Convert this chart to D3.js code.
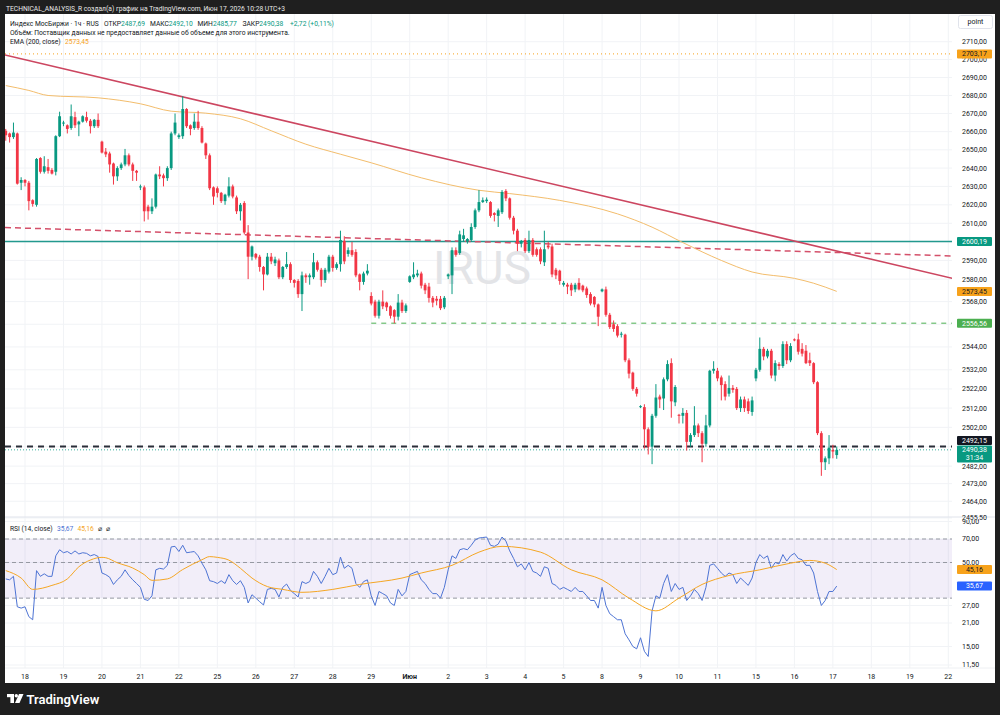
<!DOCTYPE html>
<html>
<head>
<meta charset="utf-8">
<script src="https://cdn.jsdelivr.net/npm/d3@7"></script>
<style>
  body { margin: 0; background: #1f1f1f; }
  svg text { font-family: Roboto, "Noto Sans", sans-serif; }
</style>
</head>
<body>
<svg id="chart" width="1000" height="715"></svg>
<script>
// ---- data (hourly bars, index 0 = first bar of 18 May, 10 bars per day) ----
const firstBar = -5;
const dayLabels = ["18","19","20","21","22","25","26","27","28","29","Июн","2","3","4","5","8","9","10","11","15","16","17","18","19","22"];
const barsPerDay = 10;

const opens = [
  2660.5,2659,2657,2659,2632,
  2633.5,2632,2622.5,2620,2645.5,2638,2640.5,2639,2638,2657.5,
  2664.5,2663.5,2662,2668,2664,2665.5,2668,2666,2663,2666.5,
  2654.5,2649,2648,2642.5,2635.5,2640,2642,2647,2642,2638.5,
  2629.5,2629.5,2619,2616.5,2619,2636.5,2636,2634.5,2640,2659,
  2657,2657.5,2672.5,2663.5,2662,2665.5,2662,2653.5,2647,2629.5,
  2629,2626.5,2622,2625,2630,2624,2616.5,2621,2605,2592,
  2593.5,2592,2586.5,2582.5,2592,2588.5,2590,2581,2586.5,2588,
  2579.5,2579,2572,2582,2581,2581,2589,2585,2579.5,2584,
  2592,2586,2588,2600.5,2593.5,2595.5,2594.5,2582.5,2578.5,2583,
  2571,2568,2560.5,2568,2567.5,2565.5,2563.5,2560,2567.5,2563,
  2578.5,2581,2582,2583,2577,2576,2570,2569.5,2569.5,2565,
  2581.5,2582,2595.5,2594,2601.5,2600,2601,2608,2617,2621.5,
  2622,2621.5,2615.5,2614,2616,2627.5,2623.5,2613,2606,2599,
  2601,2595,2601,2596,2596,2589,2598,2597.5,2585,2584.5,
  2577,2577,2577,2574.5,2578,2576.5,2575,2572,2570.5,2566.5,
  2573.5,2574.5,2561,2556,2555,2550.5,2550.5,2537,2530.5,2522,
  2512.5,2512.5,2501,2492,2508,2518,2517,2527,2535.5,2515,
  2508.5,2508,2509.5,2494.5,2498,2503,2499,2493.5,2503,2531.5,
  2531.5,2528,2524.5,2519.5,2522.5,2522,2512,2516.5,2515.5,2510,
  2527.5,2532,2543,2539,2542,2529,2535,2534,2545.5,2537,
  2548,2548,2543,2542,2537,2535.5,2525.5,2499,2484,2486,
  2490.3,2487.69
];
const highs = [
  2661.5,2659.5,2665,2659.5,2635,
  2634,2633,2623,2645.5,2646,2646.5,2645,2640,2658,2671,
  2666,2664,2675,2671,2666,2669,2671,2667,2667,2670,
  2655,2651,2649,2643,2641,2643,2650.5,2648,2643,2639,
  2631,2630.5,2620,2623.5,2637,2641,2637,2641,2660,2670,
  2659,2679.5,2673,2664,2670,2671.5,2663,2654,2648,2630,
  2630,2627,2626,2635,2631,2625,2621,2622,2609,2598,
  2594,2593,2587,2594,2594,2592,2591,2587,2594.5,2589,
  2580,2580,2584,2583,2583,2594,2590,2586,2586,2593,
  2593,2589,2606,2603,2597,2600,2596,2583,2584,2588,
  2573,2569,2569,2574,2568,2566,2564,2572,2569,2567,
  2582,2589,2585,2584,2578,2578,2571,2571,2571,2571,
  2583,2597,2597,2606,2607,2602,2610,2618,2628,2624,
  2624,2622,2616,2618,2628,2628.5,2624,2614,2607,2601,
  2602,2606,2602,2597,2597,2606,2600,2599,2586,2585,
  2579,2578,2578,2578,2580.5,2577,2576,2573,2571,2567,
  2575,2576,2562,2558,2556,2552,2551,2538,2531,2523,
  2513.5,2514,2502,2509,2524.5,2519,2528,2537,2538,2524,
  2509,2512,2511,2499,2513,2504,2500,2508.5,2532,2536.5,
  2533,2529,2526,2529,2524,2523,2518,2518,2517,2518,
  2533,2549,2544,2543,2543,2537,2536,2547,2547,2546,
  2548.5,2551,2546,2545,2541,2536,2526,2500,2487,2498,
  2493,2492.10
];
const lows = [
  2655,2654,2656,2631,2628,
  2630,2617,2619,2619,2637,2637,2637,2636.5,2636,2657,
  2663,2659,2661,2662,2657.5,2665,2665,2659,2662,2662,
  2648,2646,2637.5,2631,2633,2639,2641,2641,2633,2633,
  2628,2611,2612,2615,2618,2634,2630,2633,2639,2658,
  2656,2656,2662,2658,2661,2661,2653.5,2645,2628,2620,
  2624,2621,2620,2624,2623.5,2615,2611.5,2604,2580,2590,
  2590.5,2584,2574,2582,2588,2587,2580,2580,2585.5,2578,
  2575.5,2570,2563,2578,2577,2580,2584,2576,2578,2583,
  2584,2585,2584,2588,2592,2592,2581,2574,2577,2582,
  2566,2559.5,2559,2564,2563,2559,2556.5,2558,2562,2562,
  2578,2580,2581,2575,2572,2567.5,2565,2566,2563.5,2564,
  2580,2572,2592,2593,2600,2599,2600,2607,2616,2621,
  2621,2613,2611,2608,2615,2622,2612,2604,2595,2597,
  2594,2594,2592,2592,2588,2587,2596,2581,2580,2577,
  2576,2572,2571,2573,2574,2573,2570,2566,2565,2555,
  2573,2560,2553.5,2552,2549,2549,2536,2527.5,2521,2518,
  2512,2491,2488,2483,2507,2512,2511,2526,2507,2513,
  2504,2504,2490,2492,2497,2497,2484,2492,2502,2530,
  2526,2516,2516,2518,2520,2511,2510,2510,2509,2508,
  2526,2531,2537,2538,2527.5,2526,2532,2533,2535,2536,
  2547,2540,2539,2535,2534,2524.5,2498,2477,2480,2483,
  2486,2485.77
];
const closes = [
  2658,2657,2659.5,2631.5,2633.5,
  2632,2622,2620.5,2645,2638,2641,2638.5,2637,2657.5,2668.5,
  2665,2661.5,2668.5,2663.5,2665.5,2668.5,2666,2663,2666.5,2663,
  2648.5,2647.5,2642,2635.5,2640,2642,2647,2642,2638.5,2637.5,
  2630,2616.5,2616.5,2619,2636.5,2635.5,2634.5,2640,2659,2665,
  2658,2672.5,2663,2661.5,2665.5,2662,2654,2647,2629,2624.5,
  2626.5,2622,2625.5,2630,2624.5,2616.5,2620,2605,2592,2597.5,
  2591.5,2586.5,2582.5,2592,2589.5,2590.5,2581,2586.5,2588,2579.5,
  2578,2572,2582,2581,2582,2589,2585,2579.5,2585,2592,
  2586,2588,2601,2589.5,2595.5,2593,2582,2578.5,2583,2584.5,
  2567,2560.5,2568,2565.5,2565,2560.5,2560,2567.5,2563,2566,
  2581.5,2582.5,2583,2576.5,2574,2570,2567.5,2568.5,2564.5,2570,
  2582.5,2595.5,2593,2604,2603.5,2601.5,2608,2617,2621.5,2622.5,
  2622.8,2614,2614.5,2617,2627,2623.5,2613,2606,2599,2600.5,
  2595,2601,2593,2593,2589.5,2596,2597,2582.5,2582,2579,
  2578,2576,2574,2577,2574.5,2574,2571.5,2567,2566.5,2560,
  2574.5,2561,2554.5,2553.5,2550,2551,2537,2530,2522,2519.5,
  2513,2501,2492,2508,2517.5,2516.5,2527,2535,2515.5,2523,
  2508,2509.5,2494.5,2498,2503,2499,2493.5,2503,2531.5,2532.5,
  2527.5,2524,2518,2522.5,2521.5,2512,2516.5,2512,2510.5,2516,
  2532,2543,2539,2542,2529,2535.5,2534,2545.5,2537,2544.5,
  2547.5,2541.5,2540.5,2535.5,2535.5,2525.5,2499,2484,2486,2491.5,
  2489.5,2490.38
];

// EMA(200) at sample bars
const emaIdx = [-5, 1, 6, 19, 30, 38, 47, 56, 64, 73, 82, 90, 103, 118, 126, 139, 154, 163, 171, 181, 189, 200, 205, 211];
const emaVal = [2685.5, 2682.8, 2680, 2678.7, 2675.4, 2671.3, 2670.2, 2667.1, 2660.5, 2653.1, 2647.6, 2642.9, 2634.7, 2627.9, 2626.1, 2622.4, 2615.1, 2607.9, 2599.6, 2590, 2583.8, 2580.4, 2577.8, 2573.45];

// RSI(14), one value per bar from firstBar
const rsiVal = [
  39.5,39,41,26.5,26,
  26.5,23,22,44.5,41,42.5,41,41,55,60,
  57.5,58.5,56.5,59,56.5,57.5,57,55,56,54.5,
  43,42,40.5,36.5,39,41,45,41.5,39,37,
  35,29.5,29,31,45,46,45.5,48,62.5,63,
  58.5,64,57.5,58,58.5,55,49.5,45,38.5,38,
  37,38.5,37,42,38.5,36.5,38.5,35,28,31.5,
  30,28.5,27.2,34,34.5,34,30.5,35,36.7,33.5,
  32,30.5,38,37,38,44,41,37,41,46,
  42,43,54,46,48,46,37,35,38,39,
  31,27,33,32,31,28,27,34,31,33,
  42,43,44,39,37,34,32,32,30,35,
  45,55,53,60,61,60,64,69,71,71.5,
  72,64,63,65,72,68,59,53,47,49,
  45,50,44,43,41,47,46,37,36,34,
  35,34,33,35,33,33,31,29,29,26,
  35,27,24,23,22,22,18,16.5,15,14.5,
  17,14,13,25,31,30,37,42,33,37,
  34,35,29,31,34,32,29,35,48,49,
  46,43,41,43,42,37,40,38,36,40,
  50,56,53,55,46,50,49,56,51,55,
  57,53,52,48,48,43,33,27,29,33,
  33,35.67
];
// RSI moving average, read at sample bars
const maIdx = [-5, -1, 2, 7, 11, 14, 17, 20, 21, 24, 28, 31, 33, 37, 41, 46, 48, 50, 53, 56, 59, 63, 67, 72, 80, 87, 98, 103, 111, 118, 124, 134, 142, 150, 157, 164, 170, 176, 183, 191, 199, 204, 208, 211];
const maVal = [44.5, 40, 34, 36, 39.5, 47, 51.8, 53.8, 53.5, 49.8, 46.2, 42, 38.7, 39.5, 45.2, 52, 54.4, 53.8, 51.7, 46, 40, 35.4, 34, 32.6, 34, 36.5, 40, 43, 48, 58, 63, 58, 45, 39, 30, 25, 30, 36.5, 41.5, 45, 49.5, 51.5, 49.5, 45.16];

const priceTicks = [2710, 2700, 2690, 2680, 2670, 2660, 2650, 2640, 2630, 2620, 2610, 2600, 2590, 2580, 2568, 2556, 2544, 2532, 2522, 2512, 2502, 2492, 2482, 2473, 2464, 2455.5];
const hiddenTicks = [2600, 2556, 2492];   // labels covered by the price tags
const rsiTicks = [90, 70, 50, 27, 21, 15, 11.5];
const rsiLevels = [70, 50, 30];

// drawn levels and trend lines
const levelEma = 2573.45, levelTop = 2703.17, levelTeal = 2600.19, levelGreen = 2556.56, levelBlack = 2492.15, lastPrice = 2490.38;
const trendSolid = [[-5.2, 2702.6], [241.1, 2580.4]];
const trendDashed = [[-5.2, 2607.7], [241.1, 2592.4]];
const greenStart = 90;

// ---- layout ----
const plotL = 5, plotR = 952, mainT = 14, mainB = 517, rsiT = 517, rsiB = 668;
const FONT = 7, LFONT = 6.7;
const fmt = v => v.toFixed(2).replace(".", ",");

const svg = d3.select("#chart");
svg.append("rect").attr("width", 1000).attr("height", 715).attr("fill", "#1f1f1f");
svg.append("rect").attr("x", 5).attr("y", 14).attr("width", 990).attr("height", 669).attr("fill", "#ffffff");

const x = d3.scaleLinear().domain([0, 240]).range([25, 948.3]);
const y = d3.scaleLog().domain([2457, 2725.6]).range([515, 14]);
const yr = d3.scaleLog().domain([11.02, 95.96]).range([668, 517]);

const defs = svg.append("defs");
defs.append("clipPath").attr("id", "clipMain").append("rect")
  .attr("x", plotL).attr("y", mainT).attr("width", plotR - plotL).attr("height", mainB - mainT);
defs.append("clipPath").attr("id", "clipRsi").append("rect")
  .attr("x", plotL).attr("y", rsiT).attr("width", plotR - plotL).attr("height", rsiB - rsiT);
defs.append("clipPath").attr("id", "clipRsiAxis").append("rect")
  .attr("x", plotR).attr("y", 520).attr("width", 48).attr("height", 160);

// grid
const grid = svg.append("g");
dayLabels.forEach((d, k) => {
  grid.append("line").attr("x1", x(k * barsPerDay)).attr("x2", x(k * barsPerDay))
    .attr("y1", mainT).attr("y2", rsiB).attr("stroke", "#f1f3f6").attr("stroke-width", 1);
});
priceTicks.forEach(p => {
  grid.append("line").attr("x1", plotL).attr("x2", plotR).attr("y1", y(p)).attr("y2", y(p))
    .attr("stroke", "#f1f3f6");
});
rsiTicks.forEach(v => {
  grid.append("line").attr("x1", plotL).attr("x2", plotR).attr("y1", yr(v)).attr("y2", yr(v))
    .attr("stroke", "#f1f3f6");
});
svg.append("line").attr("x1", plotL).attr("x2", 995).attr("y1", 517).attr("y2", 517).attr("stroke", "#e0e3eb");
svg.append("line").attr("x1", plotL).attr("x2", 995).attr("y1", rsiB).attr("y2", rsiB).attr("stroke", "#eef0f3");

// watermark
svg.append("text").attr("x", 482).attr("y", 284).attr("text-anchor", "middle")
  .attr("font-size", 46).attr("fill", "#e3e4e7").text("IRUS");

// main pane
const main = svg.append("g").attr("clip-path", "url(#clipMain)");

main.append("line").attr("x1", plotL).attr("x2", plotR).attr("y1", y(levelTop)).attr("y2", y(levelTop))
  .attr("stroke", "#f7a21b").attr("stroke-dasharray", "1 3");
main.append("line").attr("x1", plotL).attr("x2", plotR).attr("y1", y(levelTeal)).attr("y2", y(levelTeal))
  .attr("stroke", "#22998e").attr("stroke-width", 1.5);
main.append("line").attr("x1", x(trendDashed[0][0])).attr("x2", x(trendDashed[1][0]))
  .attr("y1", y(trendDashed[0][1])).attr("y2", y(trendDashed[1][1]))
  .attr("stroke", "#d4506a").attr("stroke-width", 1.5).attr("stroke-dasharray", "6 4");
main.append("line").attr("x1", x(trendSolid[0][0])).attr("x2", x(trendSolid[1][0]))
  .attr("y1", y(trendSolid[0][1])).attr("y2", y(trendSolid[1][1]))
  .attr("stroke", "#cc4660").attr("stroke-width", 1.6);
main.append("line").attr("x1", x(greenStart)).attr("x2", plotR).attr("y1", y(levelGreen)).attr("y2", y(levelGreen))
  .attr("stroke", "#4caf50").attr("stroke-dasharray", "5 5");
main.append("line").attr("x1", plotL).attr("x2", plotR).attr("y1", y(levelBlack)).attr("y2", y(levelBlack))
  .attr("stroke", "#2a2e39").attr("stroke-width", 2).attr("stroke-dasharray", "6 5");
main.append("line").attr("x1", plotL).attr("x2", plotR).attr("y1", y(lastPrice)).attr("y2", y(lastPrice))
  .attr("stroke", "#089981").attr("stroke-width", 0.8).attr("stroke-dasharray", "1 2");

// EMA
const emaPts = emaIdx.map((d, k) => [d, emaVal[k]]);
main.append("path").datum(emaPts)
  .attr("d", d3.line().x(d => x(d[0])).y(d => y(d[1])).curve(d3.curveMonotoneX))
  .attr("fill", "none").attr("stroke", "#f3bd6c").attr("stroke-width", 1);

// candles
const bars = opens.map((o, k) => ({ i: firstBar + k, o: o, h: highs[k], l: lows[k], c: closes[k] }));
const up = "#089981", down = "#f23645";
const cg = main.append("g");
cg.selectAll("line.wick").data(bars).join("line")
  .attr("x1", d => x(d.i)).attr("x2", d => x(d.i))
  .attr("y1", d => y(d.h)).attr("y2", d => y(d.l))
  .attr("stroke", d => d.c >= d.o ? up : down).attr("stroke-width", 1);
cg.selectAll("rect.body").data(bars).join("rect")
  .attr("x", d => x(d.i) - 1.4).attr("width", 2.8)
  .attr("y", d => Math.min(y(d.o), y(d.c)))
  .attr("height", d => Math.max(1, Math.abs(y(d.o) - y(d.c))))
  .attr("fill", d => d.c >= d.o ? up : down);

// RSI pane
const rsi = svg.append("g").attr("clip-path", "url(#clipRsi)");
rsi.append("rect").attr("x", plotL).attr("width", plotR - plotL)
  .attr("y", yr(70)).attr("height", yr(30) - yr(70)).attr("fill", "rgba(126,87,194,0.1)");
rsiLevels.forEach(v => {
  rsi.append("line").attr("x1", plotL).attr("x2", plotR).attr("y1", yr(v)).attr("y2", yr(v))
    .attr("stroke", "#9598a1").attr("stroke-dasharray", "4 3");
});
const rsiPts = rsiVal.map((v, k) => [firstBar + k, v]);
rsi.append("path").datum(rsiPts)
  .attr("d", d3.line().x(d => x(d[0])).y(d => yr(d[1])))
  .attr("fill", "none").attr("stroke", "#4e74d4").attr("stroke-width", 1);
const maPts = maIdx.map((d, k) => [d, maVal[k]]);
rsi.append("path").datum(maPts)
  .attr("d", d3.line().x(d => x(d[0])).y(d => yr(d[1])).curve(d3.curveMonotoneX))
  .attr("fill", "none").attr("stroke", "#f5a623").attr("stroke-width", 1);

// right price axis
const ax = svg.append("g").attr("font-size", FONT).attr("fill", "#131722");
priceTicks.filter(p => !hiddenTicks.includes(p)).forEach(p => {
  ax.append("text").attr("x", 962).attr("y", y(p)).attr("dy", "0.35em").text(fmt(p));
});
const rax = svg.append("g").attr("font-size", FONT).attr("fill", "#131722").attr("clip-path", "url(#clipRsiAxis)");
rsiTicks.forEach(v => {
  rax.append("text").attr("x", 962).attr("y", yr(v)).attr("dy", "0.35em").text(fmt(v));
});

function tag(yc, txt, bg, fg) {
  svg.append("rect").attr("x", 957).attr("y", yc - 4.5).attr("width", 35).attr("height", 9)
    .attr("rx", 1).attr("fill", bg);
  svg.append("text").attr("x", 974.5).attr("y", yc).attr("dy", "0.35em").attr("text-anchor", "middle")
    .attr("font-size", FONT).attr("fill", fg).text(txt);
}
tag(y(levelTop), fmt(levelTop), "#f7a21b", "#131722");
tag(y(levelTeal), fmt(levelTeal), "#089981", "#ffffff");
tag(y(levelEma), fmt(levelEma), "#f7a21b", "#131722");
tag(y(levelGreen), fmt(levelGreen), "#4caf50", "#ffffff");
tag(y(levelBlack) - 6, fmt(levelBlack), "#131722", "#ffffff");
svg.append("rect").attr("x", 957).attr("y", y(levelBlack) - 1).attr("width", 35).attr("height", 17).attr("rx", 1).attr("fill", "#089981");
svg.append("text").attr("x", 974.5).attr("y", y(levelBlack) + 6).attr("text-anchor", "middle")
  .attr("font-size", FONT).attr("fill", "#ffffff").text(fmt(lastPrice));
svg.append("text").attr("x", 974.5).attr("y", y(levelBlack) + 13.5).attr("text-anchor", "middle")
  .attr("font-size", FONT).attr("fill", "#ffffff").text("31:34");
tag(yr(maVal[maVal.length - 1]), fmt(maVal[maVal.length - 1]), "#f7a21b", "#131722");
tag(yr(rsiVal[rsiVal.length - 1]), fmt(rsiVal[rsiVal.length - 1]), "#2962ff", "#ffffff");

// "point" box
svg.append("rect").attr("x", 958.5).attr("y", 15.5).attr("width", 34).attr("height", 13).attr("rx", 2)
  .attr("fill", "#fff").attr("stroke", "#e0e3eb");
svg.append("text").attr("x", 975.5).attr("y", 22).attr("dy", "0.35em").attr("text-anchor", "middle")
  .attr("font-size", FONT).attr("fill", "#131722").text("point");

// time axis
const tx = svg.append("g").attr("font-size", FONT).attr("fill", "#131722").attr("text-anchor", "middle");
dayLabels.forEach((d, k) => {
  tx.append("text").attr("x", x(k * barsPerDay)).attr("y", 678.5)
    .attr("font-weight", d === "Июн" ? "bold" : null).text(d);
});

// header and legends
svg.append("text").attr("x", 6).attr("y", 10.5).attr("font-size", LFONT).attr("fill", "#e8e8e8")
  .text("TECHNICAL_ANALYSIS_R создал(а) график на TradingView.com, Июн 17, 2026 10:28 UTC+3");

const lg = svg.append("text").attr("x", 10).attr("y", 25.5).attr("font-size", LFONT).attr("fill", "#131722");
lg.append("tspan").text("Индекс МосБиржи · 1ч · RUS");
const ohlc = [["ОТКР", "2487,69", 104], ["МАКС", "2492,10", 150], ["МИН", "2485,77", 197.5], ["ЗАКР", "2490,38", 242.5]];
ohlc.forEach(d => {
  lg.append("tspan").attr("x", d[2]).text(d[0]);
  lg.append("tspan").attr("fill", "#089981").text(d[1]);
});
lg.append("tspan").attr("x", 290).attr("fill", "#089981").text("+2,72 (+0,11%)");

svg.append("text").attr("x", 10).attr("y", 34.5).attr("font-size", LFONT).attr("fill", "#131722")
  .text("Объём: Поставщик данных не предоставляет данные об объеме для этого инструмента.");
const ema = svg.append("text").attr("x", 10).attr("y", 43.5).attr("font-size", LFONT).attr("fill", "#131722");
ema.append("tspan").text("EMA (200, close)");
ema.append("tspan").attr("x", 65).attr("fill", "#f7a21b").text(fmt(levelEma));

const rl = svg.append("text").attr("x", 10).attr("y", 531).attr("font-size", LFONT).attr("fill", "#131722");
rl.append("tspan").text("RSI (14, close)");
rl.append("tspan").attr("x", 57).attr("fill", "#4e74d4").text(fmt(rsiVal[rsiVal.length - 1]));
rl.append("tspan").attr("x", 77.5).attr("fill", "#f5a623").text(fmt(maVal[maVal.length - 1]));
rl.append("tspan").attr("x", 98).text("⌀");
rl.append("tspan").attr("x", 106).text("⌀");

// TradingView footer
const logo = svg.append("g").attr("fill", "#ffffff");
logo.append("rect").attr("x", 7).attr("y", 694).attr("width", 7).attr("height", 3.2);
logo.append("rect").attr("x", 10.4).attr("y", 694).attr("width", 3.6).attr("height", 9);
logo.append("circle").attr("cx", 16.3).attr("cy", 695.7).attr("r", 1.7);
logo.append("path").attr("d", "M19,694 L23.5,694 L19.5,703 L15,703 Z");
svg.append("text").attr("x", 26.5).attr("y", 703.5).attr("font-size", 13).attr("font-weight", 600)
  .attr("fill", "#ffffff").text("TradingView");
</script>
</body>
</html>
